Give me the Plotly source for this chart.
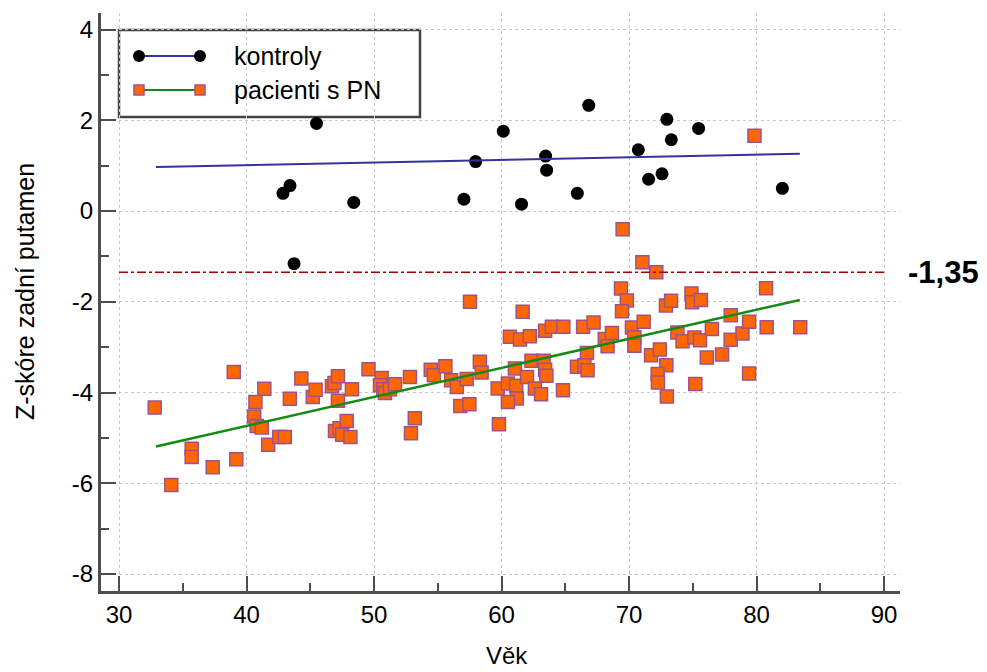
import plotly.graph_objects as go

# ---------------- data ----------------
ctrl_age = [45.49, 42.86, 43.41, 43.73, 48.41, 57.05, 57.97, 60.14, 61.57, 63.46,
            63.54, 65.95, 66.84, 70.73, 71.54, 72.59, 72.97, 73.32, 75.46, 82.03]
ctrl_z = [1.93, 0.39, 0.56, -1.16, 0.19, 0.26, 1.09, 1.76, 0.15, 1.21,
          0.90, 0.39, 2.33, 1.35, 0.70, 0.82, 2.02, 1.57, 1.82, 0.50]

pat_age = [32.8, 34.1, 35.7, 35.7, 37.35, 39.0, 39.2, 40.7, 40.6, 40.8,
           41.2, 41.4, 41.7, 42.57, 43.0, 43.4, 44.3, 45.2, 45.42, 46.7,
           46.9, 47.17, 47.17, 46.94, 47.3, 47.5, 47.86, 48.15, 48.27, 49.57,
           50.6, 50.47, 50.73, 50.86, 51.25, 51.65, 52.82, 53.2, 52.9, 54.45,
           54.7, 55.6, 56.05, 56.5, 56.77, 57.48, 57.27, 58.3, 58.44, 57.53,
           59.7, 59.8, 60.5, 61.15, 61.2, 60.5, 61.05, 60.66, 61.45, 61.66,
           62.22, 62.35, 63.3, 63.42, 63.52, 62.0, 62.62, 63.1, 63.42, 63.95,
           64.85, 64.82, 66.4, 67.22, 66.7, 65.92, 66.5, 66.75, 68.1, 68.32,
           68.66, 69.37, 69.83, 69.45, 69.5, 70.23, 70.42, 70.42, 71.15, 71.05,
           72.14, 71.73, 72.42, 72.93, 72.25, 72.27, 72.97, 72.9, 73.3, 73.8,
           74.2, 75.13, 75.57, 74.9, 74.95, 75.64, 76.1, 76.5, 77.3, 75.2,
           77.98, 77.97, 78.9, 79.42, 79.42, 80.75, 80.8, 83.43, 79.84]
pat_z = [-4.33, -6.04, -5.24, -5.42, -5.65, -3.55, -5.47, -4.21, -4.53, -4.74,
         -4.77, -3.92, -5.15, -4.98, -4.98, -4.14, -3.69, -4.10, -3.94, -3.86,
         -3.79, -3.64, -4.18, -4.85, -4.79, -4.93, -4.63, -4.98, -3.93, -3.49,
         -3.68, -3.84, -3.93, -4.01, -3.93, -3.82, -3.66, -4.57, -4.90, -3.50,
         -3.62, -3.42, -3.73, -3.88, -4.30, -4.26, -3.70, -3.32, -3.56, -2.00,
         -3.91, -4.70, -3.80, -3.85, -4.13, -4.21, -3.47, -2.77, -2.83, -2.22,
         -2.76, -3.30, -3.30, -3.50, -3.63, -3.66, -3.91, -4.04, -2.64, -2.55,
         -2.55, -3.95, -2.55, -2.46, -3.13, -3.43, -3.40, -3.51, -2.82, -2.98,
         -2.69, -1.71, -1.97, -2.21, -0.40, -2.57, -2.78, -2.97, -2.44, -1.13,
         -1.35, -3.18, -3.05, -3.40, -3.59, -3.78, -4.09, -2.08, -1.98, -2.68,
         -2.87, -2.79, -2.85, -1.82, -2.01, -1.96, -3.23, -2.60, -3.16, -3.81,
         -2.30, -2.84, -2.70, -2.44, -3.58, -1.70, -2.56, -2.56, 1.66]

ctrl_fit_age = [32.9, 83.4]
ctrl_fit_z = [0.97, 1.26]
pat_fit_age = [32.9, 83.4]
pat_fit_z = [-5.19, -1.96]

cutoff = -1.35
cutoff_age = [30, 90]

x_ticks = [30, 40, 50, 60, 70, 80, 90]
y_ticks = [-8, -6, -4, -2, 0, 2, 4]
y_tick_labels = ["-8", "-6", "-4", "-2", "0", "2", "4"]

series_names = ["kontroly", "pacienti s PN"]

# ---------------- styles ----------------
FONT = "Liberation Sans, Arial, Helvetica, sans-serif"
AXIS_COL = "#4d4d4d"
GRID_COL = "#c8c8c8"
BLUE = "#34349a"
GREEN = "#138a13"
ORANGE = "#ff6600"
SQ_EDGE = "#9e528c"
RED = "#a80000"

fig = go.Figure()

fig.add_trace(go.Scatter(
    x=ctrl_age, y=ctrl_z, mode="markers", name=series_names[0],
    marker=dict(symbol="circle", size=13, color="black"), showlegend=False))
fig.add_trace(go.Scatter(
    x=pat_age, y=pat_z, mode="markers", name=series_names[1],
    marker=dict(symbol="square", size=13, color=ORANGE,
                line=dict(color=SQ_EDGE, width=1.5)), showlegend=False))
fig.add_trace(go.Scatter(
    x=ctrl_fit_age, y=ctrl_fit_z, mode="lines",
    line=dict(color=BLUE, width=2), showlegend=False, hoverinfo="skip"))
fig.add_trace(go.Scatter(
    x=pat_fit_age, y=pat_fit_z, mode="lines",
    line=dict(color=GREEN, width=2.5), showlegend=False, hoverinfo="skip"))
fig.add_trace(go.Scatter(
    x=cutoff_age, y=[cutoff] * len(cutoff_age), mode="lines",
    line=dict(color=RED, width=1.5, dash="dashdot"), showlegend=False,
    hoverinfo="skip"))

# ---------------- custom legend (in an overlay axis 0..1) ----------------
W, H = 987, 672
ML, MR, MT, MB = 101, 87, 13, 81
pw, ph = W - ML - MR, H - MT - MB


def px_x(p):
    return (p - ML) / pw


def px_y(p):
    return (H - MB - p) / ph


leg_rows = [56, 90]
leg_x = [px_x(139), px_x(200)]
fig.add_trace(go.Scatter(
    x=leg_x, y=[px_y(leg_rows[0])] * 2, mode="lines+markers",
    xaxis="x2", yaxis="y2",
    line=dict(color=BLUE, width=2),
    marker=dict(symbol="circle", size=12, color="black"),
    showlegend=False, hoverinfo="skip"))
fig.add_trace(go.Scatter(
    x=leg_x, y=[px_y(leg_rows[1])] * 2, mode="lines+markers",
    xaxis="x2", yaxis="y2",
    line=dict(color=GREEN, width=2),
    marker=dict(symbol="square", size=10, color=ORANGE,
                line=dict(color=SQ_EDGE, width=1.5)),
    showlegend=False, hoverinfo="skip"))

fig.add_shape(type="rect", xref="paper", yref="paper",
              x0=px_x(119), x1=px_x(420), y0=px_y(117), y1=px_y(30),
              line=dict(color="#444444", width=2.5), fillcolor="white",
              layer="between")

annotations = []
for name, row in zip(series_names, leg_rows):
    annotations.append(dict(
        text=name, xref="paper", yref="paper", x=px_x(232), y=px_y(row),
        xanchor="left", yanchor="middle", showarrow=False,
        font=dict(family=FONT, size=25, color="black")))

annotations.append(dict(
    text=f"{cutoff:.2f}".replace(".", ","), xref="paper", yref="y",
    x=px_x(906), y=cutoff, xanchor="left", yanchor="middle", showarrow=False,
    font=dict(family=FONT, size=31, color="black", weight="bold")))

annotations.append(dict(
    text="Z-skóre zadní putamen", xref="paper", yref="paper",
    x=px_x(25), y=px_y(292), xanchor="center", yanchor="middle",
    textangle=-90, showarrow=False,
    font=dict(family=FONT, size=25, color="black")))
annotations.append(dict(
    text="Věk", xref="paper", yref="paper",
    x=px_x(507), y=px_y(655), xanchor="center", yanchor="middle",
    showarrow=False, font=dict(family=FONT, size=24, color="black")))

x_lo = 30 - (119 - ML) / 12.75
x_hi = 90 + (ML + pw - 884) / 12.75
y_hi = (211 - MT) / 45.375
y_lo = -(H - MB - 211) / 45.375

axis_common = dict(
    showline=True, linewidth=3, linecolor=AXIS_COL, mirror=False,
    ticks="inside", ticklen=15, tickwidth=2, tickcolor=AXIS_COL,
    showgrid=True, gridcolor=GRID_COL, gridwidth=1, griddash="dot",
    zeroline=False, tickfont=dict(family=FONT, size=24, color="black"),
)

fig.update_layout(
    width=W, height=H,
    margin=dict(l=ML, r=MR, t=MT, b=MB, autoexpand=False),
    paper_bgcolor="white", plot_bgcolor="white",
    font=dict(family=FONT, color="black"),
    showlegend=False,
    xaxis=dict(range=[x_lo, x_hi], tickvals=x_ticks,
               minor=dict(ticks="inside", ticklen=8, tickwidth=2,
                          tickcolor=AXIS_COL, dtick=5, tick0=0,
                          showgrid=False),
               **axis_common),
    yaxis=dict(range=[y_lo, y_hi], tickvals=y_ticks, ticktext=y_tick_labels,
               minor=dict(ticks="inside", ticklen=8, tickwidth=2,
                          tickcolor=AXIS_COL, dtick=1, tick0=0,
                          showgrid=False),
               **axis_common),
    xaxis2=dict(overlaying="x", range=[0, 1], visible=False),
    yaxis2=dict(overlaying="y", range=[0, 1], visible=False),
    annotations=annotations,
)

fig.write_html("out.html")
